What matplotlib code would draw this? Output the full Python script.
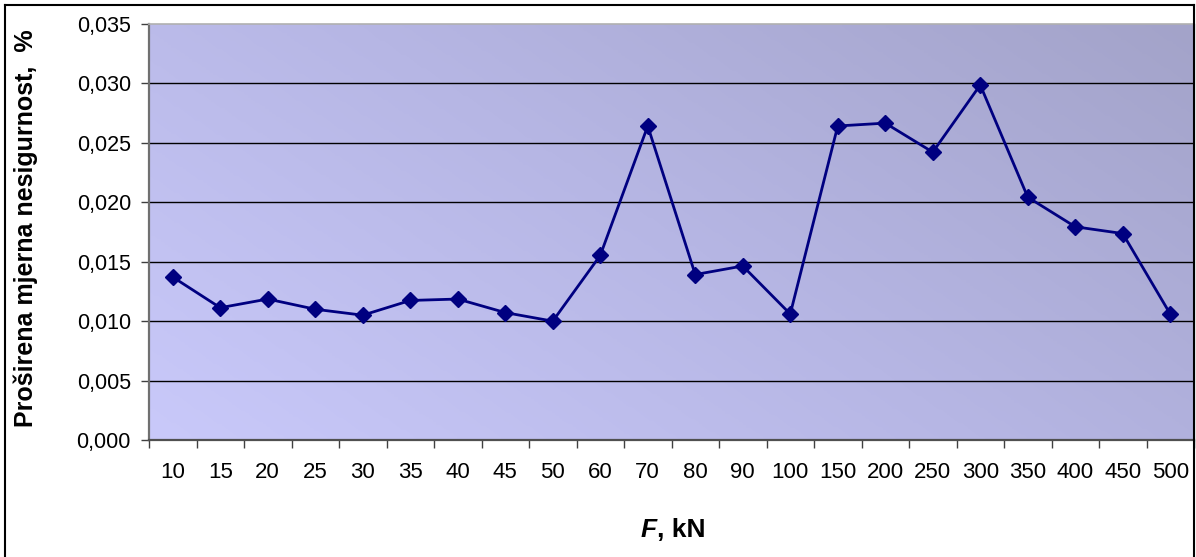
import numpy as np
import matplotlib
matplotlib.use('Agg')
import matplotlib.pyplot as plt
from matplotlib.lines import Line2D
from matplotlib.colors import LinearSegmentedColormap

plt.rcParams['font.family'] = ['Liberation Sans', 'DejaVu Sans']

# data
forces = ['10', '15', '20', '25', '30', '35', '40', '45', '50', '60', '70',
          '80', '90', '100', '150', '200', '250', '300', '350', '400', '450', '500']
uncert = [0.01371, 0.01113, 0.01186, 0.01100, 0.01050, 0.01174, 0.01186, 0.01072,
          0.01000, 0.01553, 0.02642, 0.01392, 0.01464, 0.01060, 0.02642, 0.02666,
          0.02422, 0.02987, 0.02043, 0.01794, 0.01737, 0.01060]
yticks = [0.000, 0.005, 0.010, 0.015, 0.020, 0.025, 0.030, 0.035]

W, H = 1196, 557
fig = plt.figure(figsize=(W / 100, H / 100), dpi=100)
fig.patch.set_facecolor('white')
ax = fig.add_axes([149 / W, 1 - 440 / H, (1194 - 149) / W, (440 - 24) / H])

n = len(forces)
x = np.arange(n)

# diagonal gradient background (light lavender bottom-left -> greyish top-right)
cmap = LinearSegmentedColormap.from_list('bg', ['#c9c9fa', '#b6b6e4', '#a3a3c9'])
gx, gy = np.meshgrid(np.linspace(0, 1, 300), np.linspace(0, 1, 150))
grad = (gx * 0.75 + gy * 0.45) / 1.2
ax.imshow(grad, cmap=cmap, extent=[-0.5, n - 0.5, 0, 0.035], origin='lower',
          aspect='auto', zorder=0, interpolation='bilinear')

for v in yticks[1:-1]:
    ax.axhline(v, color='black', lw=1.0, zorder=1)

ax.plot(x, uncert, color='#000080', lw=2.0, marker='D', markersize=8.5,
        markerfacecolor='#000080', markeredgecolor='#000080', zorder=3)

ax.set_xlim(-0.5, n - 0.5)
ax.set_ylim(0, 0.035)
ax.set_yticks(yticks)
ax.set_yticklabels([('%.3f' % v).replace('.', ',') for v in yticks])

ax.set_xticks(np.arange(n + 1) - 0.5)
ax.set_xticklabels([])
ax.set_xticks(x, minor=True)
ax.set_xticklabels(forces, minor=True)
ax.tick_params(axis='x', which='major', direction='out', length=6, width=1, color='#404040')
ax.tick_params(axis='x', which='minor', length=0, pad=16, labelsize=16)
ax.tick_params(axis='y', direction='out', length=6, width=1, color='#404040', labelsize=15.5, pad=7)

ax.spines['left'].set_color('#707070')
ax.spines['left'].set_linewidth(1.6)
ax.spines['bottom'].set_color('#505050')
ax.spines['bottom'].set_linewidth(1.6)
ax.spines['top'].set_color('#b0b0b0')
ax.spines['top'].set_linewidth(1.2)
ax.spines['right'].set_color('#a0a0a0')
ax.spines['right'].set_linewidth(1.0)

ax.set_ylabel('Proširena mjerna nesigurnost,  %', fontsize=18, fontweight='bold')
ax.yaxis.set_label_coords((38 - 149) / (1194 - 149), 0.51)

f_txt = fig.text(641 / W, 1 - 530 / H, 'F', fontsize=19, fontweight='bold', style='italic',
                 ha='left', va='center')
ax.annotate(', kN', xy=(1.0, 0.5), xycoords=f_txt, fontsize=19, fontweight='bold',
            ha='left', va='center', annotation_clip=False)

# outer chart frame
fig.add_artist(Line2D([5 / W, 5 / W], [0, 1 - 5 / H], color='black', lw=1.5))
fig.add_artist(Line2D([5 / W, 1194 / W], [1 - 5 / H, 1 - 5 / H], color='black', lw=1.5))
fig.add_artist(Line2D([1194 / W, 1194 / W], [0, 1 - 5 / H], color='black', lw=1.5))

fig.savefig('out.png', dpi=100)
